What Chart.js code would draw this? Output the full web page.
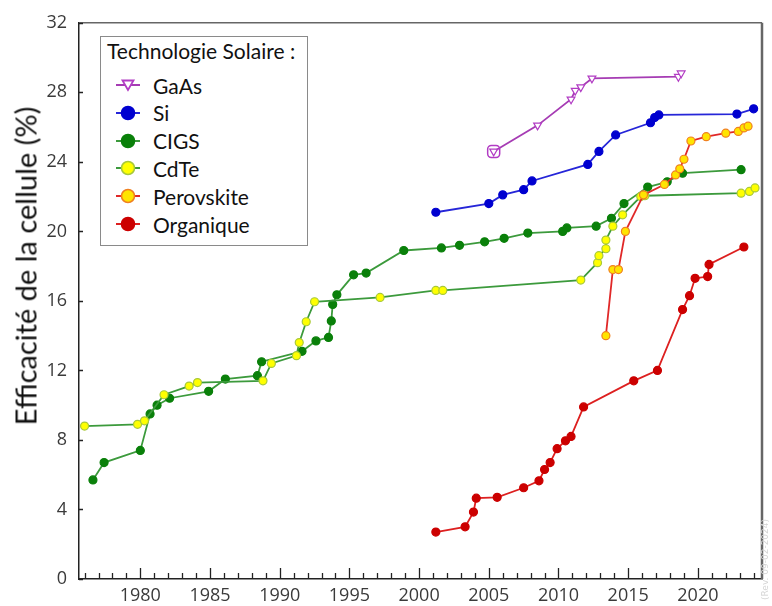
<!DOCTYPE html>
<html>
<head>
<meta charset="utf-8">
<script src="https://cdn.jsdelivr.net/npm/chart.js@4"></script>
<style>
  html, body { margin: 0; padding: 0; background: #fff; }
  #wrap { position: relative; width: 772px; height: 606px; }
  #legend {
    position: absolute; left: 100px; top: 36px; width: 206px; height: 208px;
    border: 1px solid #8a8a8a; background: #fff;
    font-family: Lato, "Open Sans", sans-serif; color: #111;
  }
  #legend .title { position: absolute; left: 6px; top: 1px; font-size: 21px; white-space: nowrap; }
  #legend .item { position: absolute; left: 14px; height: 24px; display: flex; align-items: center; font-size: 21px; }
  #legend svg { margin-right: 12px; }
  #ytitle {
    position: absolute; left: 8px; top: 266px; width: 0; height: 0;
  }
  #ytitle span {
    position: absolute; left: 0; top: 0; transform: translate(-50%, -50%) rotate(-90deg);
    font-family: Lato, "Open Sans", sans-serif; font-size: 29px; color: #111; white-space: nowrap;
    margin-left: 17px;
  }
  #rev {
    position: absolute; left: 760px; top: 600px; transform-origin: 0 0; transform: rotate(-90deg);
    font-family: "DejaVu Sans", sans-serif; font-size: 9px; color: #d4d4d4; white-space: nowrap;
  }
</style>
</head>
<body>
<div id="wrap">
  <canvas id="effChart" width="772" height="606"></canvas>
  <div id="legend"></div>
  <div id="ytitle"><span>Efficacité de la cellule (%)</span></div>
  <div id="rev">(Rev. 09-02-2024)</div>
</div>
<script>
// record efficiencies per technology (year, % efficiency)
const gaasYears = [2005.35, 2008.5, 2010.9, 2011.2, 2011.6, 2012.4, 2018.6, 2018.8];
const gaasEff = [24.6, 26.1, 27.6, 28.1, 28.3, 28.8, 28.9, 29.1];

const siYears = [2001.2, 2005.0, 2006.0, 2007.5, 2008.1, 2012.1, 2012.9, 2014.1, 2016.6, 2016.9, 2017.2, 2022.8, 2024.0];
const siEff = [21.1, 21.6, 22.1, 22.4, 22.9, 23.85, 24.6, 25.55, 26.25, 26.55, 26.7, 26.75, 27.05];

const cigsYears = [1976.6, 1977.4, 1980.0, 1980.7, 1981.2, 1982.1, 1984.9, 1986.1, 1988.4, 1988.7, 1991.6,
  1992.6, 1993.5, 1993.7, 1993.8, 1994.1, 1995.3, 1996.2, 1998.9, 2001.6, 2002.9, 2004.7, 2006.1,
  2007.8, 2010.3, 2010.6, 2012.7, 2013.8, 2014.7, 2016.4, 2017.8, 2018.9, 2023.1];
const cigsEff = [5.7, 6.7, 7.4, 9.5, 10.0, 10.4, 10.8, 11.5, 11.7, 12.5, 13.1,
  13.7, 13.9, 14.85, 15.8, 16.35, 17.5, 17.6, 18.9, 19.05, 19.2, 19.4, 19.6,
  19.9, 20.0, 20.2, 20.3, 20.75, 21.6, 22.55, 22.85, 23.35, 23.55];

const cdteYears = [1976.0, 1979.8, 1980.3, 1981.7, 1983.5, 1984.1, 1988.8, 1989.4, 1991.2, 1991.4, 1991.9,
  1992.5, 1997.2, 2001.2, 2001.7, 2011.6, 2012.8, 2012.9, 2013.4, 2013.4, 2013.9, 2014.6, 2015.9,
  2016.2, 2023.1, 2023.7, 2024.1];
const cdteEff = [8.8, 8.9, 9.1, 10.6, 11.1, 11.3, 11.4, 12.4, 12.85, 13.6, 14.8,
  15.95, 16.2, 16.6, 16.6, 17.2, 18.2, 18.6, 19.0, 19.5, 20.3, 20.95, 22.0,
  22.05, 22.2, 22.3, 22.5];

const perovYears = [2013.4, 2013.9, 2014.3, 2014.8, 2016.1, 2017.6, 2018.4, 2018.7, 2019.0, 2019.5,
  2020.6, 2022.0, 2022.9, 2023.3, 2023.6];
const perovEff = [14.0, 17.8, 17.8, 20.0, 22.1, 22.7, 23.25, 23.6, 24.15, 25.2,
  25.45, 25.65, 25.75, 25.95, 26.05];

const orgYears = [2001.2, 2003.3, 2003.9, 2004.1, 2005.6, 2007.5, 2008.6, 2009.0, 2009.4, 2009.9,
  2010.5, 2010.9, 2011.8, 2015.4, 2017.1, 2018.9, 2019.4, 2019.8, 2020.7, 2020.8, 2023.3];
const orgEff = [2.7, 3.0, 3.85, 4.65, 4.7, 5.25, 5.65, 6.3, 6.7, 7.5,
  7.95, 8.2, 9.9, 11.4, 12.0, 15.5, 16.3, 17.3, 17.4, 18.1, 19.1];

const xTickLabels = [1980, 1985, 1990, 1995, 2000, 2005, 2010, 2015, 2020];
const yTickLabels = [0, 4, 8, 12, 16, 20, 24, 28, 32];

function toPoints(xs, ys) {
  return xs.map((x, i) => ({ x: x, y: ys[i] }));
}

const series = [
  { label: 'GaAs', xs: gaasYears, ys: gaasEff, line: '#a63cb4', fill: '#ffffff', border: '#b23cc4', style: 'triangle', rot: 180, r: 4.5 },
  { label: 'Si', xs: siYears, ys: siEff, line: '#2626d8', fill: '#0000d0', border: '#0000d0', style: 'circle', rot: 0, r: 4 },
  { label: 'CIGS', xs: cigsYears, ys: cigsEff, line: '#3c9a3c', fill: '#0a800a', border: '#0a800a', style: 'circle', rot: 0, r: 4 },
  { label: 'CdTe', xs: cdteYears, ys: cdteEff, line: '#3c9a3c', fill: '#ffff00', border: '#a8c83a', style: 'circle', rot: 0, r: 4 },
  { label: 'Perovskite', xs: perovYears, ys: perovEff, line: '#e02828', fill: '#ffe400', border: '#f08020', style: 'circle', rot: 0, r: 4 },
  { label: 'Organique', xs: orgYears, ys: orgEff, line: '#dd2020', fill: '#cc0000', border: '#cc0000', style: 'circle', rot: 0, r: 4 }
];

const datasets = series.map(s => ({
  label: s.label,
  data: toPoints(s.xs, s.ys),
  showLine: true,
  borderColor: s.line,
  borderWidth: 1.8,
  pointStyle: s.style,
  rotation: s.rot,
  pointRadius: s.r,
  pointBackgroundColor: s.fill,
  pointBorderColor: s.border,
  pointBorderWidth: 1.2,
  order: series.length - series.indexOf(s)
}));

// the first GaAs record is boxed in the reference
datasets.push({
  label: 'GaAs box',
  data: toPoints(gaasYears.slice(0, 1), gaasEff.slice(0, 1)),
  showLine: false,
  pointStyle: 'rectRounded',
  pointRadius: 7,
  pointBackgroundColor: 'rgba(0,0,0,0)',
  pointBorderColor: '#b23cc4',
  pointBorderWidth: 1.5
});

// inward ticks + plot frame
const framePlugin = {
  id: 'frame',
  afterDraw(chart) {
    const ctx = chart.ctx;
    const a = chart.chartArea;
    const xs = chart.scales.x, ys = chart.scales.y;
    ctx.save();
    ctx.strokeStyle = '#666';
    ctx.lineWidth = 1.5;
    ctx.beginPath();
    ctx.moveTo(a.left, a.top);
    ctx.lineTo(a.right, a.top);
    ctx.stroke();
    ctx.lineWidth = 2.5;
    ctx.beginPath();
    ctx.moveTo(a.right, a.top);
    ctx.lineTo(a.right, a.bottom);
    ctx.stroke();

    ctx.strokeStyle = '#222';
    ctx.lineWidth = 1.3;
    ctx.beginPath();
    for (let yr = Math.ceil(xs.min); yr <= Math.floor(xs.max); yr++) {
      const px = Math.round(xs.getPixelForValue(yr)) + 0.5;
      const len = yr % 5 === 0 ? 11 : 6;
      ctx.moveTo(px, a.bottom);
      ctx.lineTo(px, a.bottom - len);
    }
    yTickLabels.forEach(v => {
      const py = Math.round(ys.getPixelForValue(v)) + 0.5;
      ctx.moveTo(a.left, py);
      ctx.lineTo(a.left + 4, py);
    });
    ctx.stroke();
    ctx.restore();
  }
};

new Chart(document.getElementById('effChart'), {
  type: 'scatter',
  data: { datasets: datasets },
  options: {
    responsive: false,
    animation: false,
    layout: { padding: { top: 21, right: 10, left: 0, bottom: 0 } },
    plugins: {
      legend: { display: false },
      tooltip: { enabled: false }
    },
    scales: {
      x: {
        type: 'linear',
        min: 1975.6,
        max: 2024.6,
        afterBuildTicks: scale => { scale.ticks = xTickLabels.map(v => ({ value: v })); },
        afterFit: scale => { scale.height = 27; },
        grid: { display: true, drawOnChartArea: false, drawTicks: false },
        border: { display: true, color: '#222', width: 1.5 },
        ticks: {
          padding: 6,
          color: '#3a3a3a',
          font: { family: '"Open Sans", sans-serif', size: 18 },
          callback: v => String(v)
        }
      },
      y: {
        min: 0,
        max: 32,
        afterBuildTicks: scale => { scale.ticks = yTickLabels.map(v => ({ value: v })); },
        afterFit: scale => { scale.width = 79; },
        grid: { display: true, drawOnChartArea: false, drawTicks: false },
        border: { display: true, color: '#222', width: 1.5 },
        ticks: {
          padding: 12,
          color: '#3a3a3a',
          font: { family: '"Open Sans", sans-serif', size: 18 }
        }
      }
    }
  },
  plugins: [framePlugin]
});

// legend box with line + marker samples
function markerSvg(s) {
  let mark;
  if (s.style === 'triangle') {
    mark = '<polygon points="13,17 7.5,7.5 18.5,7.5" fill="#fff" stroke="' + s.border + '" stroke-width="1.8"/>';
  } else {
    mark = '<circle cx="13" cy="12" r="6.5" fill="' + s.fill + '" stroke="' + s.border + '" stroke-width="1.6"/>';
  }
  return '<svg width="26" height="24"><line x1="1" y1="12" x2="25" y2="12" stroke="' + s.line + '" stroke-width="2"/>' + mark + '</svg>';
}

const legendEl = document.getElementById('legend');
let html = '<div class="title">Technologie Solaire :</div>';
series.forEach((s, i) => {
  html += '<div class="item" style="top:' + (36 + i * 27.8) + 'px">' + markerSvg(s) + '<span>' + s.label + '</span></div>';
});
legendEl.innerHTML = html;
</script>
</body>
</html>
